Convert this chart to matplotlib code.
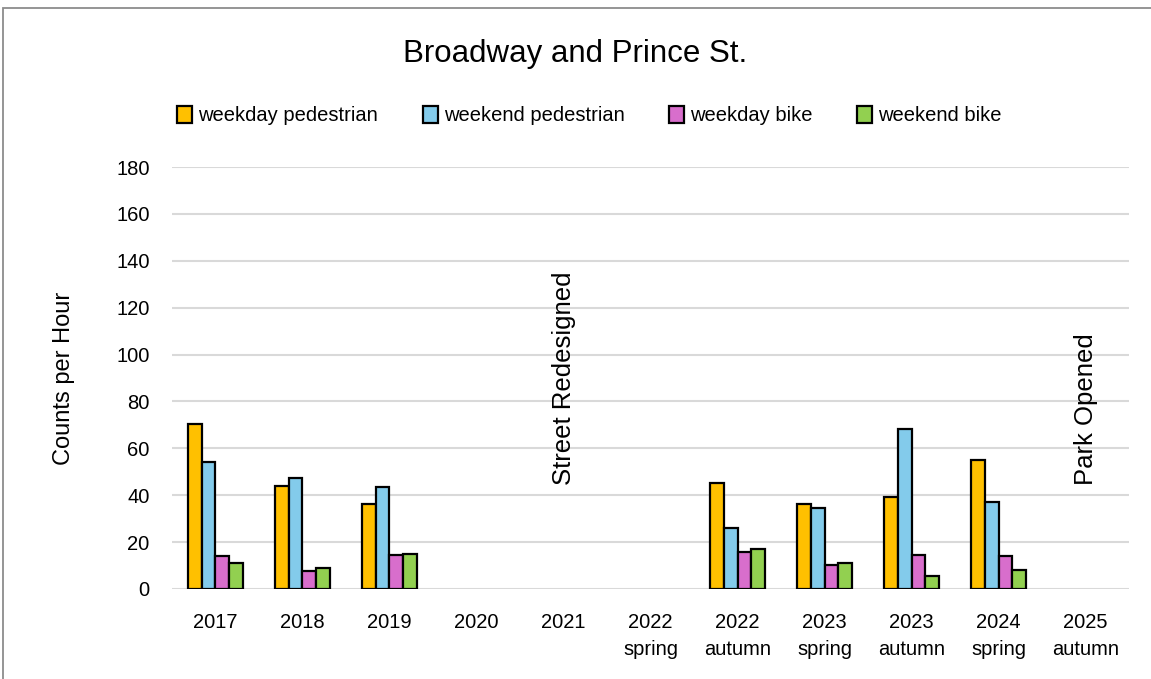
import matplotlib.pyplot as plt
import matplotlib.patches as mpatches
import numpy as np

plt.rcParams['font.family'] = ['Liberation Sans', 'DejaVu Sans']

# categories and counts
categories = ['2017', '2018', '2019', '2020', '2021', '2022\nspring', '2022\nautumn',
              '2023\nspring', '2023\nautumn', '2024\nspring', '2025\nautumn']
series_names = ['weekday pedestrian', 'weekend pedestrian', 'weekday bike', 'weekend bike']
weekday_ped = [70.5, 44.0, 36.4, np.nan, np.nan, np.nan, 45.0, 36.3, 39.4, 55.2, np.nan]
weekend_ped = [54.1, 47.5, 43.6, np.nan, np.nan, np.nan, 26.0, 34.4, 68.1, 37.0, np.nan]
weekday_bike = [14.0, 7.7, 14.4, np.nan, np.nan, np.nan, 15.9, 10.1, 14.4, 14.0, np.nan]
weekend_bike = [10.9, 8.9, 15.0, np.nan, np.nan, np.nan, 16.9, 10.9, 5.4, 7.9, np.nan]
events = [(4, 'Street Redesigned'), (10, 'Park Opened')]

colors = ['#FFC000', '#83CBEB', '#D86ECC', '#92D050']

fig = plt.figure(figsize=(11.51, 6.79), dpi=100)
ax = fig.add_axes([0.1494, 0.1326, 0.8316, 0.6214])

x = np.arange(len(categories))
width = 0.158
all_series = [weekday_ped, weekend_ped, weekday_bike, weekend_bike]
for i, vals in enumerate(all_series):
    ax.bar(x + (i - 1.5) * width, vals, width, color=colors[i], edgecolor='black',
           linewidth=1.6, label=series_names[i], zorder=3)

ax.set_xlim(-0.5, len(categories) - 0.5)
ax.set_ylim(0, 180)
ax.set_yticks(range(0, 181, 20))
ax.grid(axis='y', color='#d9d9d9', linewidth=1.5, zorder=0)
for s in ax.spines.values():
    s.set_visible(False)
ax.tick_params(axis='both', length=0, labelsize=14.5, colors='black')
ax.tick_params(axis='y', pad=16)
ax.tick_params(axis='x', pad=17)
ax.set_xticks(x)
ax.set_xticklabels(categories, linespacing=1.56)
ax.set_ylabel('Counts per Hour', fontsize=17, labelpad=30)

for pos, label in events:
    ax.text(pos, 44.5, label, rotation=90, ha='center', va='bottom', fontsize=18.5)

fig.text(0.5, 0.921, 'Broadway and Prince St.', ha='center', va='center', fontsize=22.5)
fig.legend(loc='center', bbox_to_anchor=(0.512, 0.83), ncol=4, frameon=False,
           fontsize=14.5, handlelength=0.75, handleheight=0.95, handletextpad=0.3,
           columnspacing=2.2)

# chart border
fig.patches.append(mpatches.Rectangle((3 / 1151, -0.05), 1.2, 1 - 8 / 679 + 0.05,
                                      transform=fig.transFigure, fill=False,
                                      edgecolor='#8c8c8c', linewidth=1.3))

fig.savefig('out.png', dpi=100)
